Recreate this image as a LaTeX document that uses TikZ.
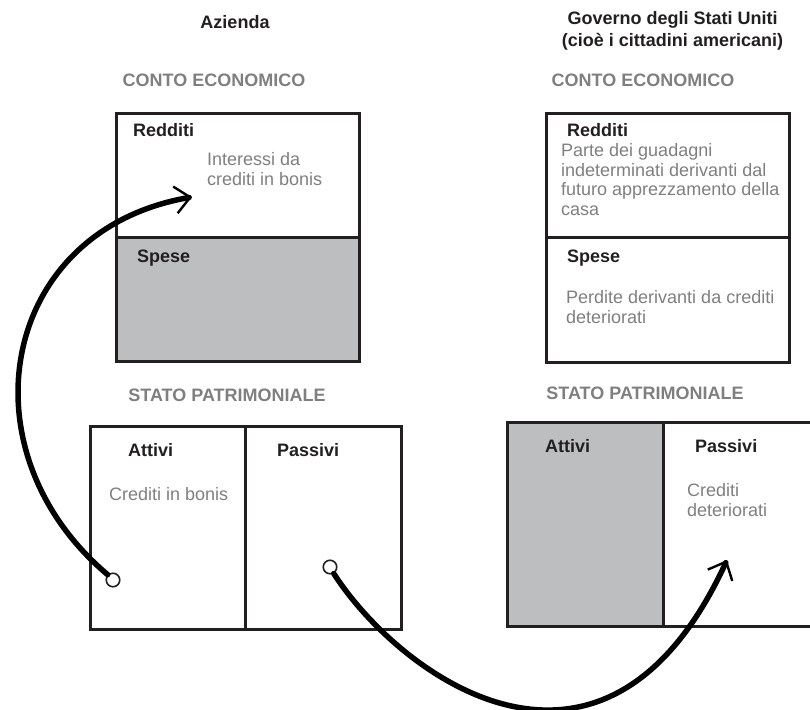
\documentclass[tikz,border=0pt]{standalone}
\usepackage{fontspec}
\setmainfont{Liberation Sans}
\usetikzlibrary{positioning,arrows.meta}

\definecolor{ink}{HTML}{231F20}
\definecolor{greytext}{HTML}{7F7F7F}
\definecolor{greyfill}{HTML}{BCBEC0}

\tikzset{
  head/.style={font=\fontsize{18}{22}\selectfont\bfseries,text=ink,inner sep=0pt},
  title/.style={head,text=greytext,anchor=base},
  part/.style={head,anchor=base west},
  % base of a multi-line note = baseline of its last line
  note/.style={font=\fontsize{18}{19.5}\selectfont,text=greytext,inner sep=0pt,
    anchor=base west,align=left},
  box/.style={draw=ink,line width=3pt},
  hole/.style={circle,draw=ink,line width=1.6pt,minimum size=13.5pt,inner sep=0pt},
  brush/.style={draw=black,line width=5.5pt,line cap=round,
    -{Straight Barb[length=15pt,width=27pt,line width=2.4pt]}}
}

\begin{document}
\begin{tikzpicture}[x=1pt,y=-1pt]
  \clip (0,0) rectangle (810,709);

  % conto economico
  \fill[greyfill] (116,237) rectangle (359,361);
  \draw[box] (116,113) rectangle (359,361) (116,237) -- (359,237);
  \draw[box] (546,113) rectangle (789,362) (546,237) -- (789,237);

  % stato patrimoniale
  \fill[greyfill] (507,422) rectangle (663,626);
  \draw[box] (90,426) rectangle (401,629) (245,426) -- (245,629);
  \draw[box] (507,422) rectangle (830,626) (663,422) -- (663,626);

  \node[head,anchor=base] (azienda) at (235,28.5) {Azienda};
  \node[head,align=center] (governo) at (672.5,30.5)
    {Governo degli Stati Uniti\\(cioè i cittadini americani)};

  \foreach \n/\x/\y/\t in {ceA/214/86.5/CONTO ECONOMICO, ceB/643/86.5/CONTO ECONOMICO,
    spA/227/401.4/STATO PATRIMONIALE, spB/645/399.4/STATO PATRIMONIALE}
    \node[title] (\n) at (\x,\y) {\t};

  \foreach \n/\x/\y/\t in {redA/133/136.7/Redditi, speA/137/262.7/Spese,
    redB/567/136.7/Redditi, speB/567/262.7/Spese,
    attA/128/456/Attivi, pasA/277/456/Passivi,
    attB/545/452.7/Attivi, pasB/695/452.7/Passivi}
    \node[part] (\n) at (\x,\y) {\t};

  \node[note] (interessi) at (207,185) {Interessi da\\crediti in bonis};
  \node[note] (parte) at (561,215.3) {Parte dei guadagni\\indeterminati derivanti dal\\futuro apprezzamento della\\casa};
  \node[note] (perdite) at (566,323) {Perdite derivanti da crediti\\deteriorati};
  \node[note] (bonis) at (109,500.7) {Crediti in bonis};
  \node[note] (deter) at (687,516.2) {Crediti\\deteriorati};

  % frecce
  \node[hole] (holeA) at (113,580) {};
  \node[hole] (holeB) at (330,567) {};
  \coordinate (tipA) at (192,197);
  \coordinate (tipB) at (727,560);
  \draw[brush] (holeA.135) .. controls (-40,450) and (0,230) .. (tipA);
  \draw[brush] (holeB.-60) .. controls (401,678) and (605,825) .. (tipB);

\end{tikzpicture}
\end{document}
